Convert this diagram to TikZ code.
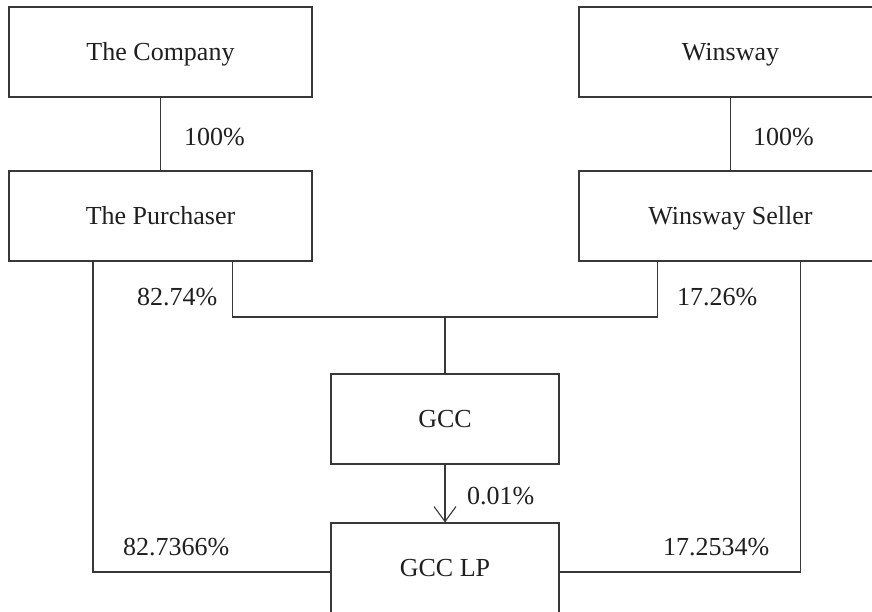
\documentclass[tikz,border=0pt]{standalone}
\usepackage{fontspec}
\setmainfont{Liberation Serif}
\usetikzlibrary{arrows.meta,calc}
\definecolor{ln}{gray}{0.22}
\definecolor{tx}{gray}{0.12}
\begin{document}
\begin{tikzpicture}[x=1pt,y=-1pt,
  font=\fontsize{26}{30}\selectfont,
  every node/.style={text=tx},
  box/.style={draw=ln,line width=1.1pt,minimum width=303pt,minimum height=90pt,inner sep=0pt,text height=17pt,text depth=1pt,anchor=center},
  sbox/.style={box,minimum width=228pt},
  conn/.style={draw=ln,line width=1.1pt},
  pct/.style={anchor=base west,inner sep=0pt}]
\useasboundingbox (0,0) rectangle (872,611);
\clip (0,0) rectangle (872,611);
\node[box] (comp) at (160.5,52) {The Company};
\node[box] (purch) at (160.5,216) {The Purchaser};
\node[box] (wins) at (730.5,52) {Winsway};
\node[box] (wseller) at (730.5,216) {Winsway Seller};
\node[sbox] (gcc) at (445,419) {GCC};
\node[sbox] (gcclp) at (445,568) {GCC LP};
\coordinate (j) at (445,317);
\draw[conn] (comp.south) -- (purch.north);
\draw[conn] (wins.south) -- (wseller.north);
\draw[conn] ([xshift=-80pt]purch.south east) |- (j);
\draw[conn] ([xshift=79pt]wseller.south west) |- (j);
\draw[conn] (j) -- (gcc.north);
\draw[conn] ([xshift=84.5pt]purch.south west) |- ([yshift=-4pt]gcclp.west);
\draw[conn] ([xshift=222pt]wseller.south west) |- ([yshift=-4pt]gcclp.east);
\draw[conn,-{Straight Barb[length=15pt,width=22pt,line width=1.1pt]}] (gcc.south) -- (gcclp.north);
\node[pct] (p1) at (184,145) {100\%};
\node[pct] (p2) at (753,145) {100\%};
\node[pct] (p3) at (137,305) {82.74\%};
\node[pct] (p4) at (677,305) {17.26\%};
\node[pct] (p5) at (467,504) {0.01\%};
\node[pct] (p6) at (123,555) {82.7366\%};
\node[pct] (p7) at (663,555) {17.2534\%};
\end{tikzpicture}
\end{document}
